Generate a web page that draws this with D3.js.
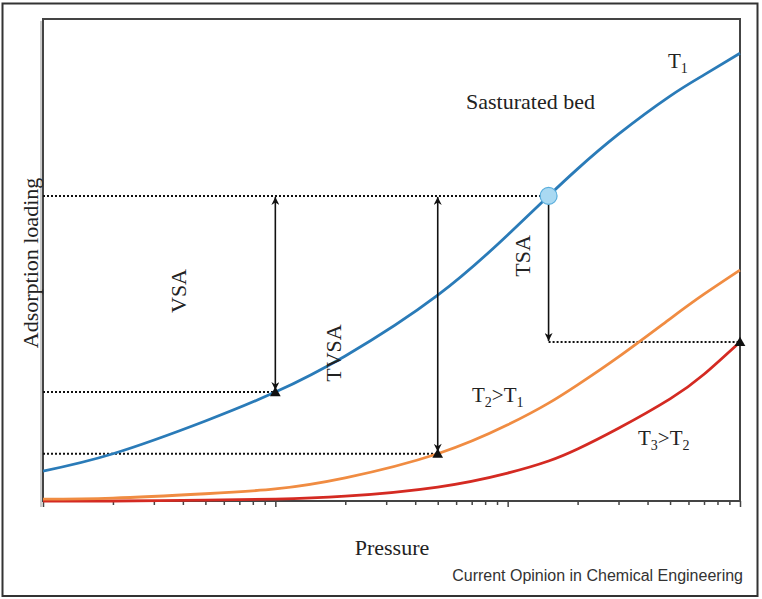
<!DOCTYPE html>
<html>
<head>
<meta charset="utf-8">
<script src="https://cdn.jsdelivr.net/npm/d3@7"></script>
<style>
  body { margin: 0; background: #fff; }
  text { font-family: "Liberation Serif", "DejaVu Serif", serif; fill: #222; }
  .credit { font-family: "Liberation Sans", Arial, sans-serif; fill: #333; }
</style>
</head>
<body>
<svg id="chart" width="762" height="599"></svg>
<script>
// Pressure (log axis) and loading
var pressure = [1, 2, 5, 10, 20, 50, 100, 150, 200, 300, 500, 700, 1000];
var loadT1 = [0.062, 0.098, 0.166, 0.226, 0.301, 0.427, 0.552, 0.633, 0.689, 0.761, 0.840, 0.884, 0.929];
var loadT2 = [0.004, 0.006, 0.015, 0.025, 0.048, 0.098, 0.158, 0.203, 0.241, 0.299, 0.378, 0.429, 0.479];
var loadT3 = [0.000, 0.000, 0.002, 0.004, 0.010, 0.029, 0.058, 0.083, 0.108, 0.151, 0.212, 0.263, 0.330];

// key points of the cycles (index into pressure)
var vsaIdx = 3, tvsaIdx = 5, satIdx = 7, tsaIdx = 12;

var majorTicks = [1, 10, 100, 1000];
var minorTicks = [];
[1, 10, 100].forEach(function(d) {
  for (var k = 2; k <= 9; k++) minorTicks.push(d * k);
});

var svg = d3.select('#chart');
var frame = { left: 43, right: 740, top: 19, bottom: 501 };

var xScale = d3.scaleLog().domain([1, 1000]).range([frame.left, frame.right]);
var yScale = d3.scaleLinear().domain([0, 1]).range([frame.bottom, frame.top]);

// outer border
svg.append('rect')
  .attr('x', 2.5).attr('y', 3.5).attr('width', 755).attr('height', 592.5)
  .attr('fill', 'none').attr('stroke', '#333').attr('stroke-width', 2);

// arrow heads
var defs = svg.append('defs');
defs.append('marker')
  .attr('id', 'arrow').attr('viewBox', '0 0 10 10')
  .attr('refX', 10).attr('refY', 5)
  .attr('markerWidth', 12).attr('markerHeight', 8)
  .attr('markerUnits', 'userSpaceOnUse')
  .attr('orient', 'auto-start-reverse')
  .append('path').attr('d', 'M0,0L10,5L0,10L3,5Z').attr('fill', '#111');

// plot frame
svg.append('line')
  .attr('x1', frame.left - 2).attr('x2', frame.left - 2)
  .attr('y1', frame.top + 2).attr('y2', frame.bottom + 6)
  .attr('stroke', '#ccc').attr('stroke-width', 2);
svg.append('rect')
  .attr('x', frame.left).attr('y', frame.top)
  .attr('width', frame.right - frame.left).attr('height', frame.bottom - frame.top)
  .attr('fill', 'none').attr('stroke', '#444').attr('stroke-width', 2);

// x axis ticks (log)
svg.append('g')
  .attr('transform', 'translate(0,' + frame.bottom + ')')
  .call(d3.axisBottom(xScale).tickValues(minorTicks).tickFormat('').tickSize(4).tickSizeOuter(0))
  .call(function(g) { g.select('.domain').remove(); g.selectAll('line').attr('stroke', '#444').attr('stroke-width', 1.5); });
svg.append('g')
  .attr('transform', 'translate(0,' + frame.bottom + ')')
  .call(d3.axisBottom(xScale).tickValues(majorTicks).tickFormat('').tickSize(6).tickSizeOuter(0))
  .call(function(g) { g.select('.domain').remove(); g.selectAll('line').attr('stroke', '#444').attr('stroke-width', 1.5); });

// dotted guides
function px(i) { return xScale(pressure[i]); }
var guides = [
  [frame.left, yScale(loadT1[satIdx]), px(satIdx), yScale(loadT1[satIdx])],
  [frame.left, yScale(loadT1[vsaIdx]), px(vsaIdx), yScale(loadT1[vsaIdx])],
  [frame.left, yScale(loadT2[tvsaIdx]), px(tvsaIdx), yScale(loadT2[tvsaIdx])],
  [px(satIdx), yScale(loadT3[tsaIdx]), frame.right, yScale(loadT3[tsaIdx])]
];
svg.selectAll('.guide').data(guides).enter().append('line')
  .attr('class', 'guide')
  .attr('x1', function(d) { return d[0]; }).attr('y1', function(d) { return d[1]; })
  .attr('x2', function(d) { return d[2]; }).attr('y2', function(d) { return d[3]; })
  .attr('stroke', '#111').attr('stroke-width', 2).attr('stroke-dasharray', '2,2');

// isotherms
var line = d3.line().curve(d3.curveNatural)
  .x(function(d) { return xScale(d[0]); })
  .y(function(d) { return yScale(d[1]); });
var curves = [
  { vals: loadT3, color: '#d42a22' },
  { vals: loadT2, color: '#f08c42' },
  { vals: loadT1, color: '#2a7bb8' }
];
curves.forEach(function(c) {
  svg.append('path')
    .datum(d3.zip(pressure, c.vals))
    .attr('d', line)
    .attr('fill', 'none').attr('stroke', c.color).attr('stroke-width', 2.8);
});

// swing arrows
var yTop = yScale(loadT1[satIdx]) + 1;
var arrows = [
  { x: px(vsaIdx), y1: yTop, y2: yScale(loadT1[vsaIdx]) - 2, both: true },
  { x: px(tvsaIdx), y1: yTop, y2: yScale(loadT2[tvsaIdx]) - 2, both: true },
  { x: px(satIdx), y1: yScale(loadT1[satIdx]) + 8, y2: yScale(loadT3[tsaIdx]) - 1, both: false }
];
arrows.forEach(function(a) {
  svg.append('line')
    .attr('x1', a.x).attr('x2', a.x).attr('y1', a.y1).attr('y2', a.y2)
    .attr('stroke', '#111').attr('stroke-width', 1.6)
    .attr('marker-end', 'url(#arrow)')
    .attr('marker-start', a.both ? 'url(#arrow)' : null);
});

// end-state markers
var tri = d3.symbol().type(d3.symbolTriangle).size(50);
var ends = [
  [pressure[vsaIdx], loadT1[vsaIdx]],
  [pressure[tvsaIdx], loadT2[tvsaIdx]],
  [pressure[tsaIdx], loadT3[tsaIdx]]
];
svg.selectAll('.end').data(ends).enter().append('path')
  .attr('class', 'end')
  .attr('d', tri)
  .attr('transform', function(d) { return 'translate(' + xScale(d[0]) + ',' + (yScale(d[1]) + 1) + ')'; })
  .attr('fill', '#111');

// saturated bed point
svg.append('circle')
  .attr('cx', px(satIdx)).attr('cy', yScale(loadT1[satIdx]))
  .attr('r', 8.5)
  .attr('fill', '#a9d9f2').attr('stroke', '#5aaedc').attr('stroke-width', 1.2);

// labels
function subLabel(x, y, parts) {
  var t = svg.append('text').attr('x', x).attr('y', y).style('font-size', '21px');
  parts.forEach(function(p) {
    t.append('tspan').text(p[0])
      .attr('dy', p[1])
      .style('font-size', p[1] > 0 ? '14px' : '21px');
  });
  return t;
}
subLabel(668, 68, [['T', 0], ['1', 5]]);
subLabel(472, 402, [['T', 0], ['2', 5], ['>T', -5], ['1', 5]]);
subLabel(638, 445, [['T', 0], ['3', 5], ['>T', -5], ['2', 5]]);

svg.append('text').attr('x', 466).attr('y', 109).style('font-size', '22px').text('Sasturated bed');

function vText(x, y, s) {
  svg.append('text')
    .attr('transform', 'translate(' + x + ',' + y + ') rotate(-90)')
    .attr('text-anchor', 'middle')
    .style('font-size', '22px')
    .text(s);
}
vText(186, 291, 'VSA');
vText(341, 353, 'TVSA');
vText(530, 256, 'TSA');
vText(38, 263, 'Adsorption loading');

svg.append('text').attr('x', 392).attr('y', 555).attr('text-anchor', 'middle')
  .style('font-size', '22px').text('Pressure');

svg.append('text').attr('class', 'credit')
  .attr('x', 743).attr('y', 581).attr('text-anchor', 'end')
  .style('font-size', '16px').text('Current Opinion in Chemical Engineering');
</script>
</body>
</html>
